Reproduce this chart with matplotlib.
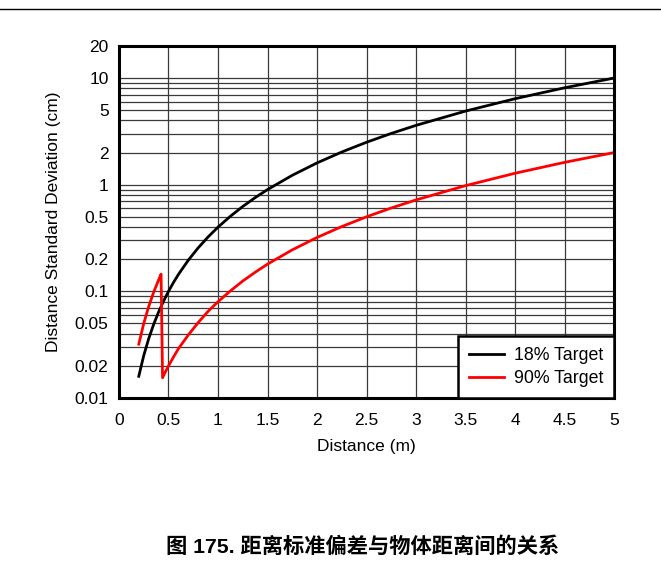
import matplotlib
matplotlib.use('Agg')
import matplotlib.pyplot as plt
from matplotlib.ticker import LogLocator, NullFormatter
from matplotlib.lines import Line2D

plt.rcParams['font.family'] = ['Liberation Sans', 'Noto Sans CJK SC', 'DejaVu Sans']

# values
dist_18 = [0.2, 0.25, 0.3, 0.35, 0.4, 0.45, 0.5, 0.55, 0.6, 0.7, 0.8, 0.9, 1.0, 1.125, 1.25,
           1.375, 1.5, 1.75, 2.0, 2.25, 2.5, 2.75, 3.0, 3.5, 4.0, 4.5, 5.0]
std_18 = [0.016, 0.025, 0.036, 0.049, 0.064, 0.081, 0.1, 0.121, 0.144, 0.196, 0.256, 0.324,
          0.4, 0.506, 0.625, 0.756, 0.9, 1.225, 1.6, 2.025, 2.5, 3.025, 3.6, 4.9, 6.4, 8.1, 10.0]

dist_90 = [0.2, 0.25, 0.3, 0.35, 0.4, 0.425, 0.44, 0.47, 0.5, 0.55, 0.6, 0.7, 0.8, 0.9, 1.0,
           1.125, 1.25, 1.375, 1.5, 1.75, 2.0, 2.25, 2.5, 2.75, 3.0, 3.5, 4.0, 4.5, 5.0]
std_90 = [0.032, 0.05, 0.072, 0.098, 0.128, 0.145, 0.0155, 0.0177, 0.02, 0.0242, 0.029, 0.039,
          0.051, 0.065, 0.08, 0.101, 0.125, 0.151, 0.18, 0.245, 0.32, 0.405, 0.5, 0.605, 0.72,
          0.98, 1.28, 1.62, 2.0]

yticks = [0.01, 0.02, 0.05, 0.1, 0.2, 0.5, 1, 2, 5, 10, 20]
ytick_labels = ['0.01', '0.02', '0.05', '0.1', '0.2', '0.5', '1', '2', '5', '10', '20']
xticks = [0, 0.5, 1, 1.5, 2, 2.5, 3, 3.5, 4, 4.5, 5]
xtick_labels = ['0', '0.5', '1', '1.5', '2', '2.5', '3', '3.5', '4', '4.5', '5']

fig = plt.figure(figsize=(6.61, 5.67), dpi=100)
ax = fig.add_axes([0.180, 0.298, 0.749, 0.621])

ax.plot(dist_18, std_18, color='black', lw=2, label='18% Target')
ax.plot(dist_90, std_90, color='#ff0000', lw=2, label='90% Target')

ax.set_yscale('log')
ax.set_xlim(0, 5)
ax.set_ylim(0.01, 20)
ax.set_yticks(yticks, ytick_labels)
ax.yaxis.set_minor_locator(LogLocator(base=10, subs=range(2, 10)))
ax.yaxis.set_minor_formatter(NullFormatter())
ax.set_xticks(xticks, xtick_labels)
ax.tick_params(which='both', length=0, labelsize=12.5)
ax.tick_params(axis='x', pad=11)
ax.tick_params(axis='y', pad=7.5)
ax.grid(which='both', color='#3a3a3a', lw=0.9)
ax.set_axisbelow(True)
for s in ax.spines.values():
    s.set_linewidth(2.2)

ax.set_xlabel('Distance (m)', fontsize=12.5, labelpad=8)
ax.set_ylabel('Distance Standard Deviation (cm)', fontsize=12.5, labelpad=10)

leg = ax.legend(loc='lower right', borderaxespad=0, fancybox=False, framealpha=1,
                edgecolor='black', fontsize=12.8, handlelength=2.0, borderpad=0.6,
                labelspacing=0.35, handletextpad=0.55)
leg.get_frame().set_linewidth(1.8)

fig.add_artist(Line2D([0, 1], [0.984, 0.984], color='black', lw=1))
fig.text(0.549, 0.036, '图 175. 距离标准偏差与物体距离间的关系', ha='center', va='center',
         fontsize=15.3, fontweight='bold', family=['Liberation Sans', 'Noto Sans CJK SC'])

fig.savefig('out.png', dpi=100)
